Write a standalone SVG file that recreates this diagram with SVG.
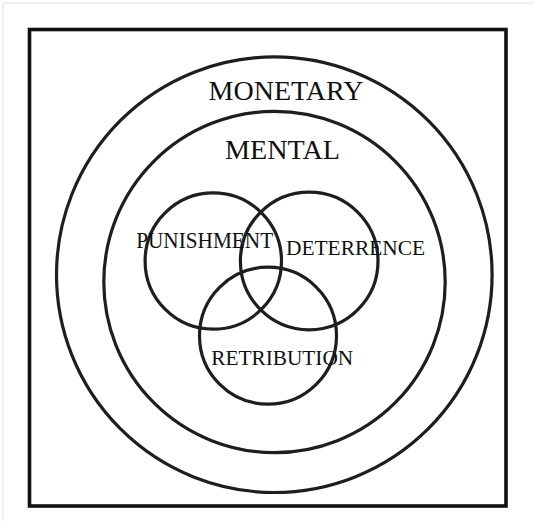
<svg xmlns="http://www.w3.org/2000/svg" width="534" height="521" viewBox="0 0 534 521">
<style>
.ring{fill:none;stroke:#1e1e1e;stroke-width:3.2}
.lbl{font-family:"Liberation Serif","Times New Roman",serif;fill:#111;text-anchor:middle}
</style>
<rect width="534" height="521" fill="#fff"/>
<path d="M3,521 V3 H534" fill="none" stroke="#e2e2e2" stroke-width="1"/>
<rect x="29.5" y="29.5" width="476.5" height="476.5" fill="none" stroke="#111" stroke-width="3.6"/>
<g id="monetary">
<circle class="ring" cx="274.3" cy="274.7" r="217.8"/>
<text class="lbl" x="286" y="100" font-size="27.8" textLength="155" lengthAdjust="spacingAndGlyphs">MONETARY</text>
</g>
<g id="mental">
<circle class="ring" cx="274.5" cy="282" r="170.7"/>
<text class="lbl" x="282.5" y="158.5" font-size="27.8" textLength="115" lengthAdjust="spacingAndGlyphs">MENTAL</text>
</g>
<g id="punishment">
<circle class="ring" cx="213.3" cy="261" r="68.2"/>
</g>
<g id="deterrence">
<circle class="ring" cx="309.2" cy="261" r="68.8"/>
</g>
<g id="retribution">
<circle class="ring" cx="268" cy="335.7" r="68.5"/>
</g>
<g id="labels">
<text class="lbl" x="204.7" y="248.3" font-size="22.5" textLength="137" lengthAdjust="spacingAndGlyphs">PUNISHMENT</text>
<text class="lbl" x="355.5" y="255" font-size="21.5" textLength="139" lengthAdjust="spacingAndGlyphs">DETERRENCE</text>
<text class="lbl" x="282.2" y="365" font-size="21.6" textLength="142" lengthAdjust="spacingAndGlyphs">RETRIBUTION</text>
</g>
</svg>
